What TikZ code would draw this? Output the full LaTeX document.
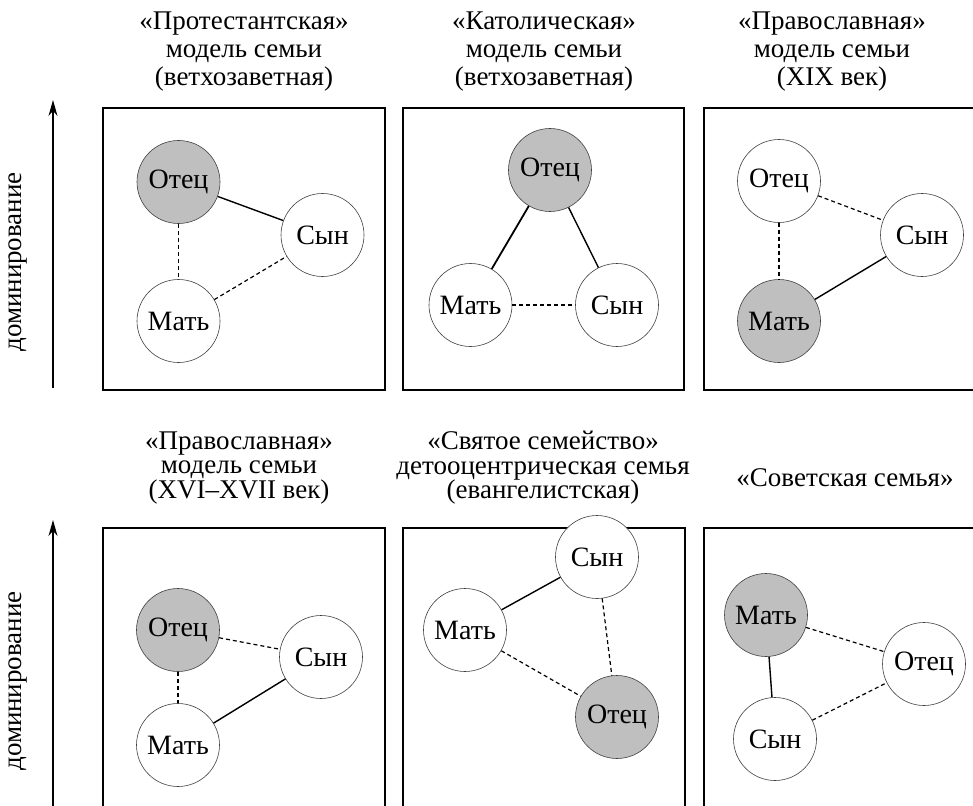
\documentclass[tikz,border=0pt]{standalone}
\usepackage{fontspec}
\setmainfont{Liberation Serif}
\usetikzlibrary{arrows.meta}
\begin{document}
\begin{tikzpicture}[x=1pt,y=-1pt,
  pers/.style={circle,draw=black!75,line width=0.6pt,fill=white,minimum size=83pt,inner sep=0pt,font=\fontsize{28}{30}\selectfont},
  dom/.style={pers,fill=black!25},
  frame/.style={draw=black,line width=1.3pt},
  strong/.style={draw=black,line width=1.4pt},
  weak/.style={draw=black,line width=1.2pt,dash pattern=on 4pt off 3pt},
  ttl/.style={align=center,font=\fontsize{27}{28}\selectfont},
  ttlb/.style={align=center,font=\fontsize{27}{24.5}\selectfont},
  axis/.style={draw=black,line width=1.2pt,-{Stealth[length=16pt,width=9pt]}},
  axlbl/.style={rotate=90,font=\fontsize{27}{28}\selectfont}]
\useasboundingbox (0,0) rectangle (973,805);
\clip (0,0) rectangle (973,805);
\fill[white] (0,0) rectangle (973,805);
% frames
\draw[frame] (103,108) rectangle (385,390);
\draw[frame] (403,108) rectangle (684,390);
\draw[frame] (704,108) rectangle (986,390);
\draw[frame] (103,528) rectangle (385,810);
\draw[frame] (403,528) rectangle (685,810);
\draw[frame] (704,528) rectangle (986,810);
% axes
\coordinate (ax1s) at (53,388);
\coordinate (ax1e) at (53,100);
\coordinate (ax2s) at (53,810);
\coordinate (ax2e) at (53,520);
\draw[axis] (ax1s) -- (ax1e);
\draw[axis] (ax2s) -- (ax2e);
\node[axlbl] (lbl1) at (18,262) {доминирование};
\node[axlbl] (lbl2) at (18,681) {доминирование};
% titles
\node[ttl] (t1) at (244,52) {«Протестантская»\\модель семьи\\(ветхозаветная)};
\node[ttl] (t2) at (544,52) {«Католическая»\\модель семьи\\(ветхозаветная)};
\node[ttl] (t3) at (832,52) {«Православная»\\модель семьи\\(XIX век)};
\node[ttlb] (t4) at (239,468) {«Православная»\\модель семьи\\(XVI–XVII век)};
\node[ttlb] (t5) at (543,468) {«Святое семейство»\\детооцентрическая семья\\(евангелистская)};
\node[ttlb] (t6) at (845,478) {«Советская семья»};
% panel 1
\node[dom] (o1) at (178.5,182) {Отец};
\node[pers] (s1) at (322.5,235) {Сын};
\node[pers] (m1) at (178.5,321) {Мать};
\draw[strong] (o1) -- (s1);
\draw[weak] (o1) -- (m1);
\draw[weak] (m1) -- (s1);
% panel 2
\node[dom] (o2) at (550,170) {Отец};
\node[pers] (m2) at (470.5,305) {Мать};
\node[pers] (s2) at (617,305) {Сын};
\draw[strong,line width=1.8pt] (o2) -- (m2);
\draw[strong] (o2) -- (s2);
\draw[weak] (m2) -- (s2);
% panel 3
\node[pers] (o3) at (779,181) {Отец};
\node[pers] (s3) at (922,235) {Сын};
\node[dom] (m3) at (779,321) {Мать};
\draw[weak] (o3) -- (s3);
\draw[weak] (o3) -- (m3);
\draw[strong] (m3) -- (s3);
% panel 4
\node[dom] (o4) at (178,630) {Отец};
\node[pers] (s4) at (321,657) {Сын};
\node[pers] (m4) at (178,745) {Мать};
\draw[weak] (o4) -- (s4);
\draw[weak] (o4) -- (m4);
\draw[strong] (m4) -- (s4);
% panel 5
\node[pers] (s5) at (597,557) {Сын};
\node[pers] (m5) at (465,630) {Мать};
\node[dom] (o5) at (617,717) {Отец};
\draw[strong] (m5) -- (s5);
\draw[weak] (m5) -- (o5);
\draw[weak] (s5) -- (o5);
% panel 6
\node[dom] (m6) at (766,615) {Мать};
\node[pers] (o6) at (924,664) {Отец};
\node[pers] (s6) at (775,739) {Сын};
\draw[weak] (m6) -- (o6);
\draw[strong] (m6) -- (s6);
\draw[weak] (s6) -- (o6);
\end{tikzpicture}
\end{document}
